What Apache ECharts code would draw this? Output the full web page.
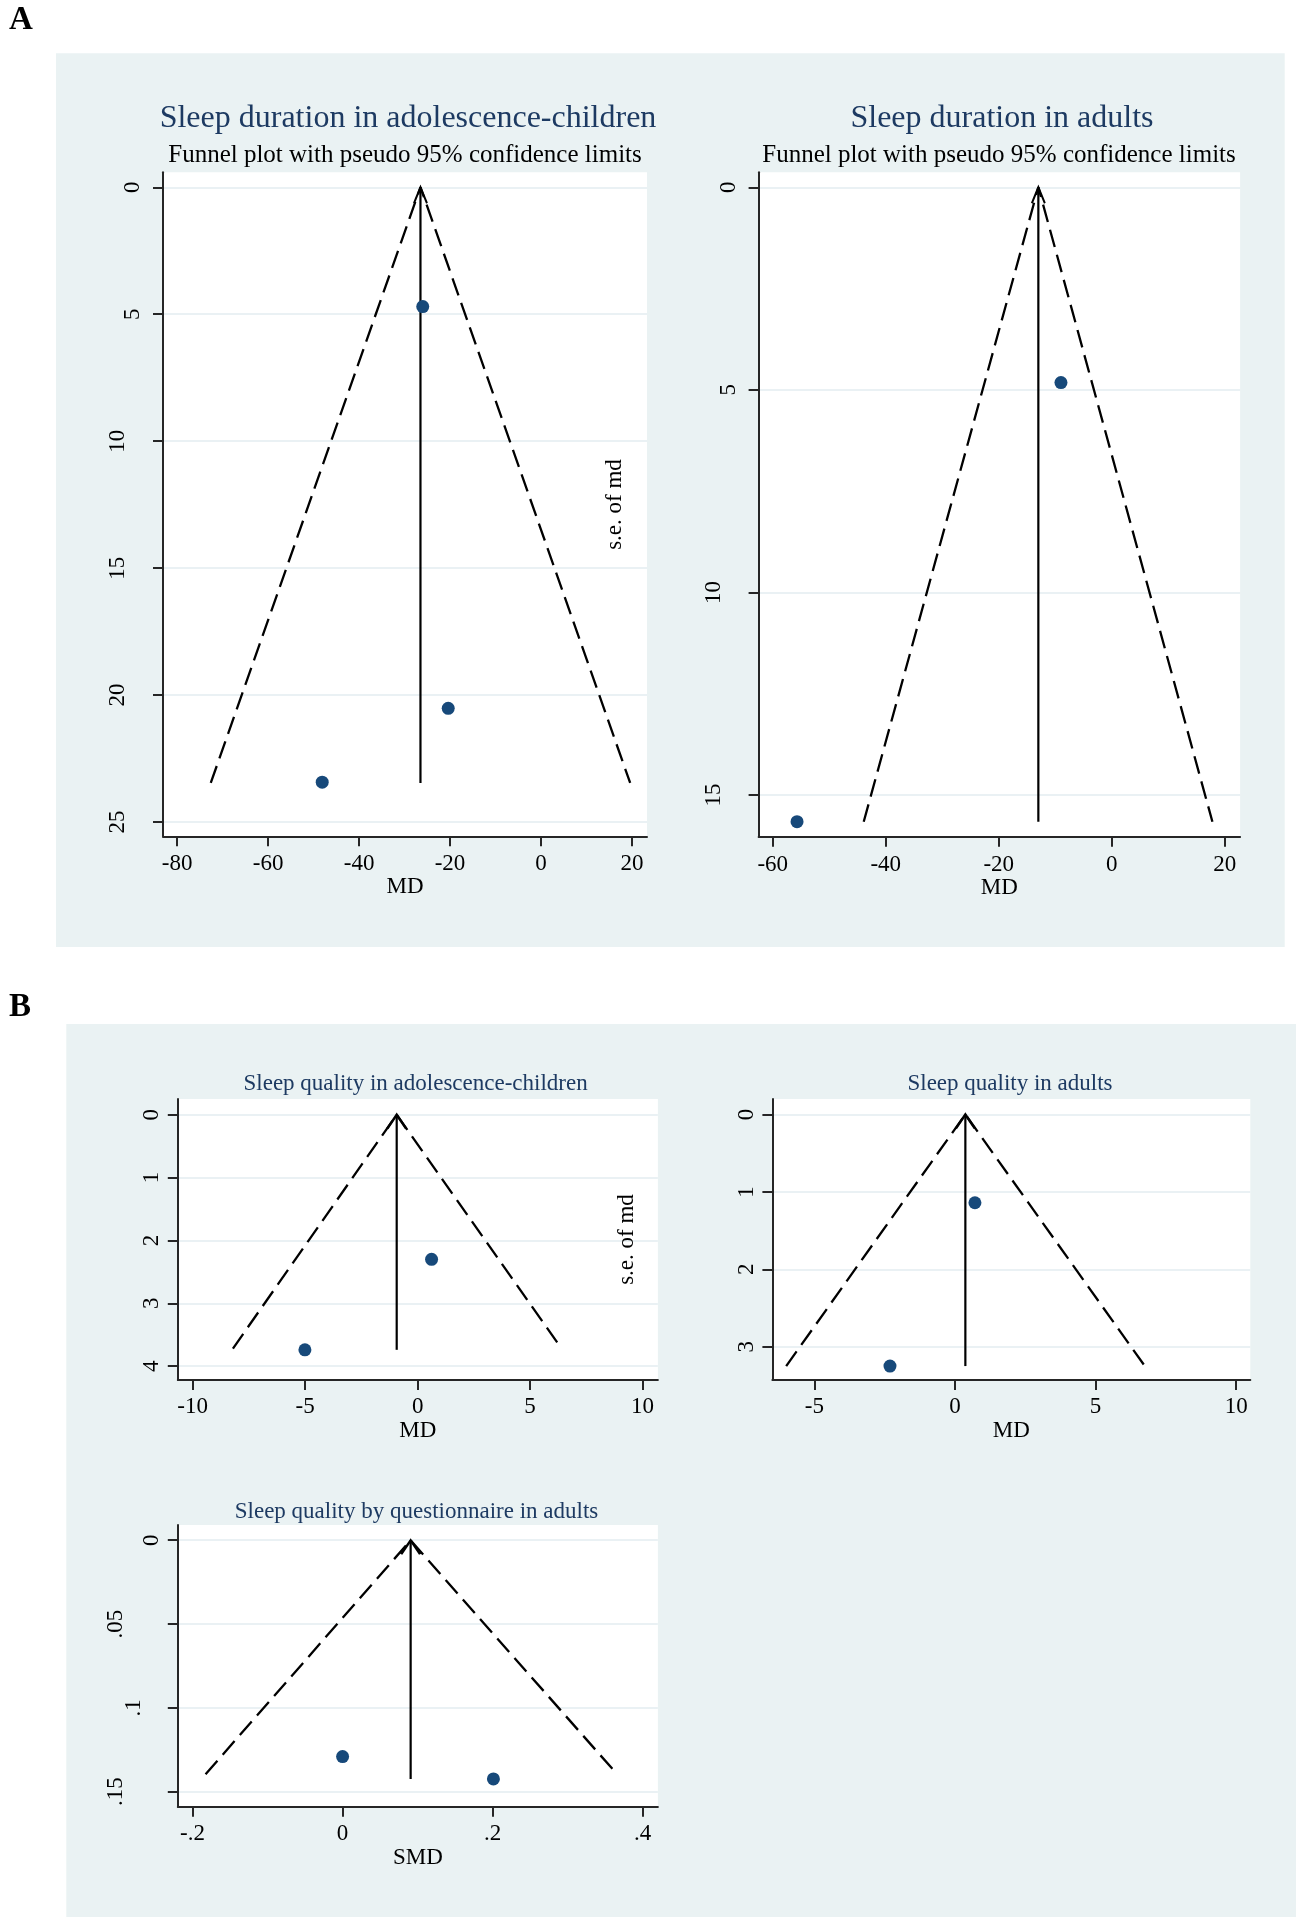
<!DOCTYPE html>
<html>
<head>
<meta charset="utf-8">
<script src="https://cdn.jsdelivr.net/npm/echarts@6/dist/echarts.min.js"></script>
<style>html,body{margin:0;padding:0;background:#fff}#c{width:1296px;height:1920px}</style>
</head>
<body>
<div id="c"></div>
<script>
// ---------- DATA ----------
// A1: Sleep duration in adolescence-children
const a1Title = 'Sleep duration in adolescence-children';
const a1MD = [-26.0, -20.4, -48.1];
const a1SE = [4.70, 20.52, 23.43];
const a1Pooled = -26.5;
const a1FunnelMD = [-72.6, 19.6];
const a1FunnelSE = 23.46;
const a1CenterSE = 23.46;
const a1XTicks = [-80, -60, -40, -20, 0, 20];
const a1YTicks = [0, 5, 10, 15, 20, 25];

// A2: Sleep duration in adults
const a2Title = 'Sleep duration in adults';
const a2MD = [-9.0, -55.7];
const a2SE = [4.82, 15.66];
const a2Pooled = -13.0;
const a2FunnelMD = [-43.9, 17.8];
const a2FunnelSE = 15.66;
const a2CenterSE = 15.66;
const a2XTicks = [-60, -40, -20, 0, 20];
const a2YTicks = [0, 5, 10, 15];

// B1: Sleep quality in adolescence-children
const b1Title = 'Sleep quality in adolescence-children';
const b1MD = [0.62, -5.01];
const b1SE = [2.30, 3.74];
const b1Pooled = -0.93;
const b1FunnelMD = [-8.21, 6.40];
const b1FunnelSE = 3.72;
const b1CenterSE = 3.74;
const b1XTicks = [-10, -5, 0, 5, 10];
const b1YTicks = [0, 1, 2, 3, 4];

// B2: Sleep quality in adults
const b2Title = 'Sleep quality in adults';
const b2MD = [0.71, -2.31];
const b2SE = [1.14, 3.25];
const b2Pooled = 0.37;
const b2FunnelMD = [-6.0, 6.75];
const b2FunnelSE = 3.25;
const b2CenterSE = 3.25;
const b2XTicks = [-5, 0, 5, 10];
const b2YTicks = [0, 1, 2, 3];

// B3: Sleep quality by questionnaire in adults
const b3Title = 'Sleep quality by questionnaire in adults';
const b3SMD = [0.0, 0.201];
const b3SE = [0.1291, 0.1424];
const b3Pooled = 0.0907;
const b3FunnelMD = [-0.1826, 0.3658];
const b3FunnelSE = 0.1396;
const b3CenterSE = 0.1424;
const b3XTicks = [-0.2, 0, 0.2, 0.4];
const b3YTicks = [0, 0.05, 0.1, 0.15];

const subTitle = 'Funnel plot with pseudo 95% confidence limits';
const seName = 's.e. of md';

// ---------- STYLE / LAYOUT ----------
const SERIF = '"Liberation Serif","Times New Roman",serif';
const TITLE_NAVY = '#1d3a62';
const MARK_NAVY = '#17497a';
const PANEL_BG = '#eaf2f3';
const AXIS_COL = '#262626';
const GRID_COL = '#e3edf0';
const FS = 23;

const panels = [
  { title: a1Title, md: a1MD, se: a1SE, pooled: a1Pooled, fMD: a1FunnelMD, fSE: a1FunnelSE, cSE: a1CenterSE,
    xTicks: a1XTicks, yTicks: a1YTicks, xName: 'MD', yName: '',
    g: { left: 163, top: 172.3, width: 484, height: 664 }, xr: [-83.1, 23.3], yr: [-0.59, 25.56],
    yMargin: 18.3, perChar: 15, arrow: [13, 16], xMargin: 16.3, xNameGap: 39.6 },
  { title: a2Title, md: a2MD, se: a2SE, pooled: a2Pooled, fMD: a2FunnelMD, fSE: a2FunnelSE, cSE: a2CenterSE,
    xTicks: a2XTicks, yTicks: a2YTicks, xName: 'MD', yName: seName, yNameGap: 132,
    g: { left: 758.6, top: 172.3, width: 481.5, height: 664.4 }, xr: [-62.5, 22.7], yr: [-0.37, 16.03],
    yMargin: 17.8, perChar: 15, arrow: [13, 16], xMargin: 16.3, xNameGap: 39.6 },
  { title: b1Title, md: b1MD, se: b1SE, pooled: b1Pooled, fMD: b1FunnelMD, fSE: b1FunnelSE, cSE: b1CenterSE,
    xTicks: b1XTicks, yTicks: b1YTicks, xName: 'MD', yName: '',
    g: { left: 177.8, top: 1099, width: 480.1, height: 281 }, xr: [-10.66, 10.68], yr: [-0.25, 4.22],
    yMargin: 14.1, perChar: 18.3, arrow: [19, 14], xMargin: 15.9, xNameGap: 39 },
  { title: b2Title, md: b2MD, se: b2SE, pooled: b2Pooled, fMD: b2FunnelMD, fSE: b2FunnelSE, cSE: b2CenterSE,
    xTicks: b2XTicks, yTicks: b2YTicks, xName: 'MD', yName: seName, yNameGap: 134,
    g: { left: 772.4, top: 1099, width: 477.9, height: 281 }, xr: [-6.49, 10.50], yr: [-0.2, 3.43],
    yMargin: 14.1, perChar: 18.3, arrow: [19, 14], xMargin: 15.9, xNameGap: 39 },
  { title: b3Title, md: b3SMD, se: b3SE, pooled: b3Pooled, fMD: b3FunnelMD, fSE: b3FunnelSE, cSE: b3CenterSE,
    xTicks: b3XTicks, yTicks: b3YTicks, xName: 'SMD', yName: '',
    g: { left: 177.8, top: 1525, width: 480.1, height: 281.7 }, xr: [-0.2196, 0.4202], yr: [-0.0091, 0.159],
    yMargin: 14.1, perChar: 18.3, arrow: [19, 14], xMargin: 15.9, xNameGap: 39.3 }
];

function lab(v) {
  const s = String(parseFloat(Number(v).toPrecision(10)));
  return s.replace(/^(-?)0\./, '$1.');
}

const baseFont = { fontFamily: SERIF, fontSize: FS, color: '#000' };

const grids = [], xAxes = [], yAxes = [], series = [];
panels.forEach((p, i) => {
  grids.push({ left: p.g.left, top: p.g.top, width: p.g.width, height: p.g.height,
    show: true, backgroundColor: '#ffffff', borderWidth: 0, containLabel: false, outerBoundsMode: 'none' });
  xAxes.push({
    gridIndex: i, type: 'value', min: p.xr[0], max: p.xr[1], position: 'bottom',
    name: p.xName, nameLocation: 'middle', nameGap: p.xNameGap, nameMoveOverlap: false,
    nameTextStyle: Object.assign({}, baseFont),
    axisLine: { show: true, onZero: false, lineStyle: { color: AXIS_COL, width: 2 } },
    axisTick: { show: true, inside: false, length: 10, customValues: p.xTicks, lineStyle: { color: AXIS_COL, width: 2 } },
    axisLabel: Object.assign({ customValues: p.xTicks, formatter: lab, margin: p.xMargin, hideOverlap: false }, baseFont),
    splitLine: { show: false }, z: 3
  });
  const rich = {};
  [1, 2, 3, 4].forEach(n => {
    rich['c' + n] = Object.assign({ padding: [0, 0, p.perChar * (n - 1), 0] }, baseFont);
  });
  yAxes.push({
    gridIndex: i, type: 'value', inverse: true, min: p.yr[0], max: p.yr[1], position: 'left',
    name: p.yName, nameLocation: 'middle', nameGap: p.yNameGap || 30, nameRotate: 90, nameMoveOverlap: false,
    nameTextStyle: Object.assign({}, baseFont),
    axisLine: { show: true, onZero: false, lineStyle: { color: AXIS_COL, width: 2 } },
    axisTick: { show: true, inside: false, length: 10, customValues: p.yTicks, lineStyle: { color: AXIS_COL, width: 2 } },
    axisLabel: Object.assign({
      customValues: p.yTicks, rotate: 90, margin: p.yMargin, hideOverlap: false,
      formatter: v => { const s = lab(v); return '{c' + s.length + '|' + s + '}'; },
      rich: rich
    }, baseFont),
    splitLine: { show: true, lineStyle: { color: GRID_COL, width: 1.5 } }, z: 3
  });
  // funnel (pseudo 95% limits)
  series.push({
    type: 'line', xAxisIndex: i, yAxisIndex: i, silent: true, animation: false, z: 5,
    symbol: 'none',
    data: [[p.fMD[0], p.fSE], [p.pooled, 0], [p.fMD[1], p.fSE]],
    lineStyle: { color: '#000', width: 2.3, type: [18, 8] }
  });
  // pooled estimate line with arrow head
  series.push({
    type: 'line', xAxisIndex: i, yAxisIndex: i, silent: true, animation: false, z: 5,
    showSymbol: true,
    data: [
      { value: [p.pooled, 0], symbol: 'path://M0,20 L10,0 L20,20', symbolSize: p.arrow, symbolOffset: [0, '50%'],
        itemStyle: { color: 'rgba(0,0,0,0)', borderColor: '#000', borderWidth: 2.2 } },
      { value: [p.pooled, p.cSE], symbol: 'none' }
    ],
    lineStyle: { color: '#000', width: 2.2 }
  });
  // studies
  series.push({
    type: 'scatter', xAxisIndex: i, yAxisIndex: i, silent: true, animation: false, z: 6,
    symbol: 'circle', symbolSize: 13,
    data: p.md.map((m, j) => [m, p.se[j]]),
    itemStyle: { color: MARK_NAVY, opacity: 1 }
  });
});

function txt(text, x, y, size, color, align, bold) {
  return {
    type: 'text', x: x, y: y, z: 10,
    style: { text: text, fontFamily: SERIF, fontSize: size, fontWeight: bold ? 'bold' : 'normal', fill: color,
      align: align, verticalAlign: 'middle', textAlign: align, textVerticalAlign: 'middle' }
  };
}

const graphics = [
  { type: 'rect', z: -10, shape: { x: 56, y: 53.3, width: 1228.7, height: 893.7 }, style: { fill: PANEL_BG } },
  { type: 'rect', z: -10, shape: { x: 66.3, y: 1024, width: 1229.7, height: 893 }, style: { fill: PANEL_BG } },
  txt('A', 9, 20.6, 33, '#000', 'left', true),
  txt('B', 9, 1007, 33, '#000', 'left', true),
  txt(panels[0].title, 408, 118.5, 32, TITLE_NAVY, 'center'),
  txt(subTitle, 405, 155.6, 25, '#000', 'center'),
  txt(panels[1].title, 1002, 118.5, 32, TITLE_NAVY, 'center'),
  txt(subTitle, 999, 155.6, 25, '#000', 'center'),
  txt(panels[2].title, 415.6, 1083.9, 23, TITLE_NAVY, 'center'),
  txt(panels[3].title, 1010, 1083.9, 23, TITLE_NAVY, 'center'),
  txt(panels[4].title, 416.5, 1511.5, 23, TITLE_NAVY, 'center')
];

const chart = echarts.init(document.getElementById('c'), null, { renderer: 'canvas', width: 1296, height: 1920 });
chart.setOption({
  backgroundColor: '#ffffff',
  animation: false,
  grid: grids,
  xAxis: xAxes,
  yAxis: yAxes,
  series: series,
  graphic: { elements: graphics }
});
</script>
</body>
</html>
